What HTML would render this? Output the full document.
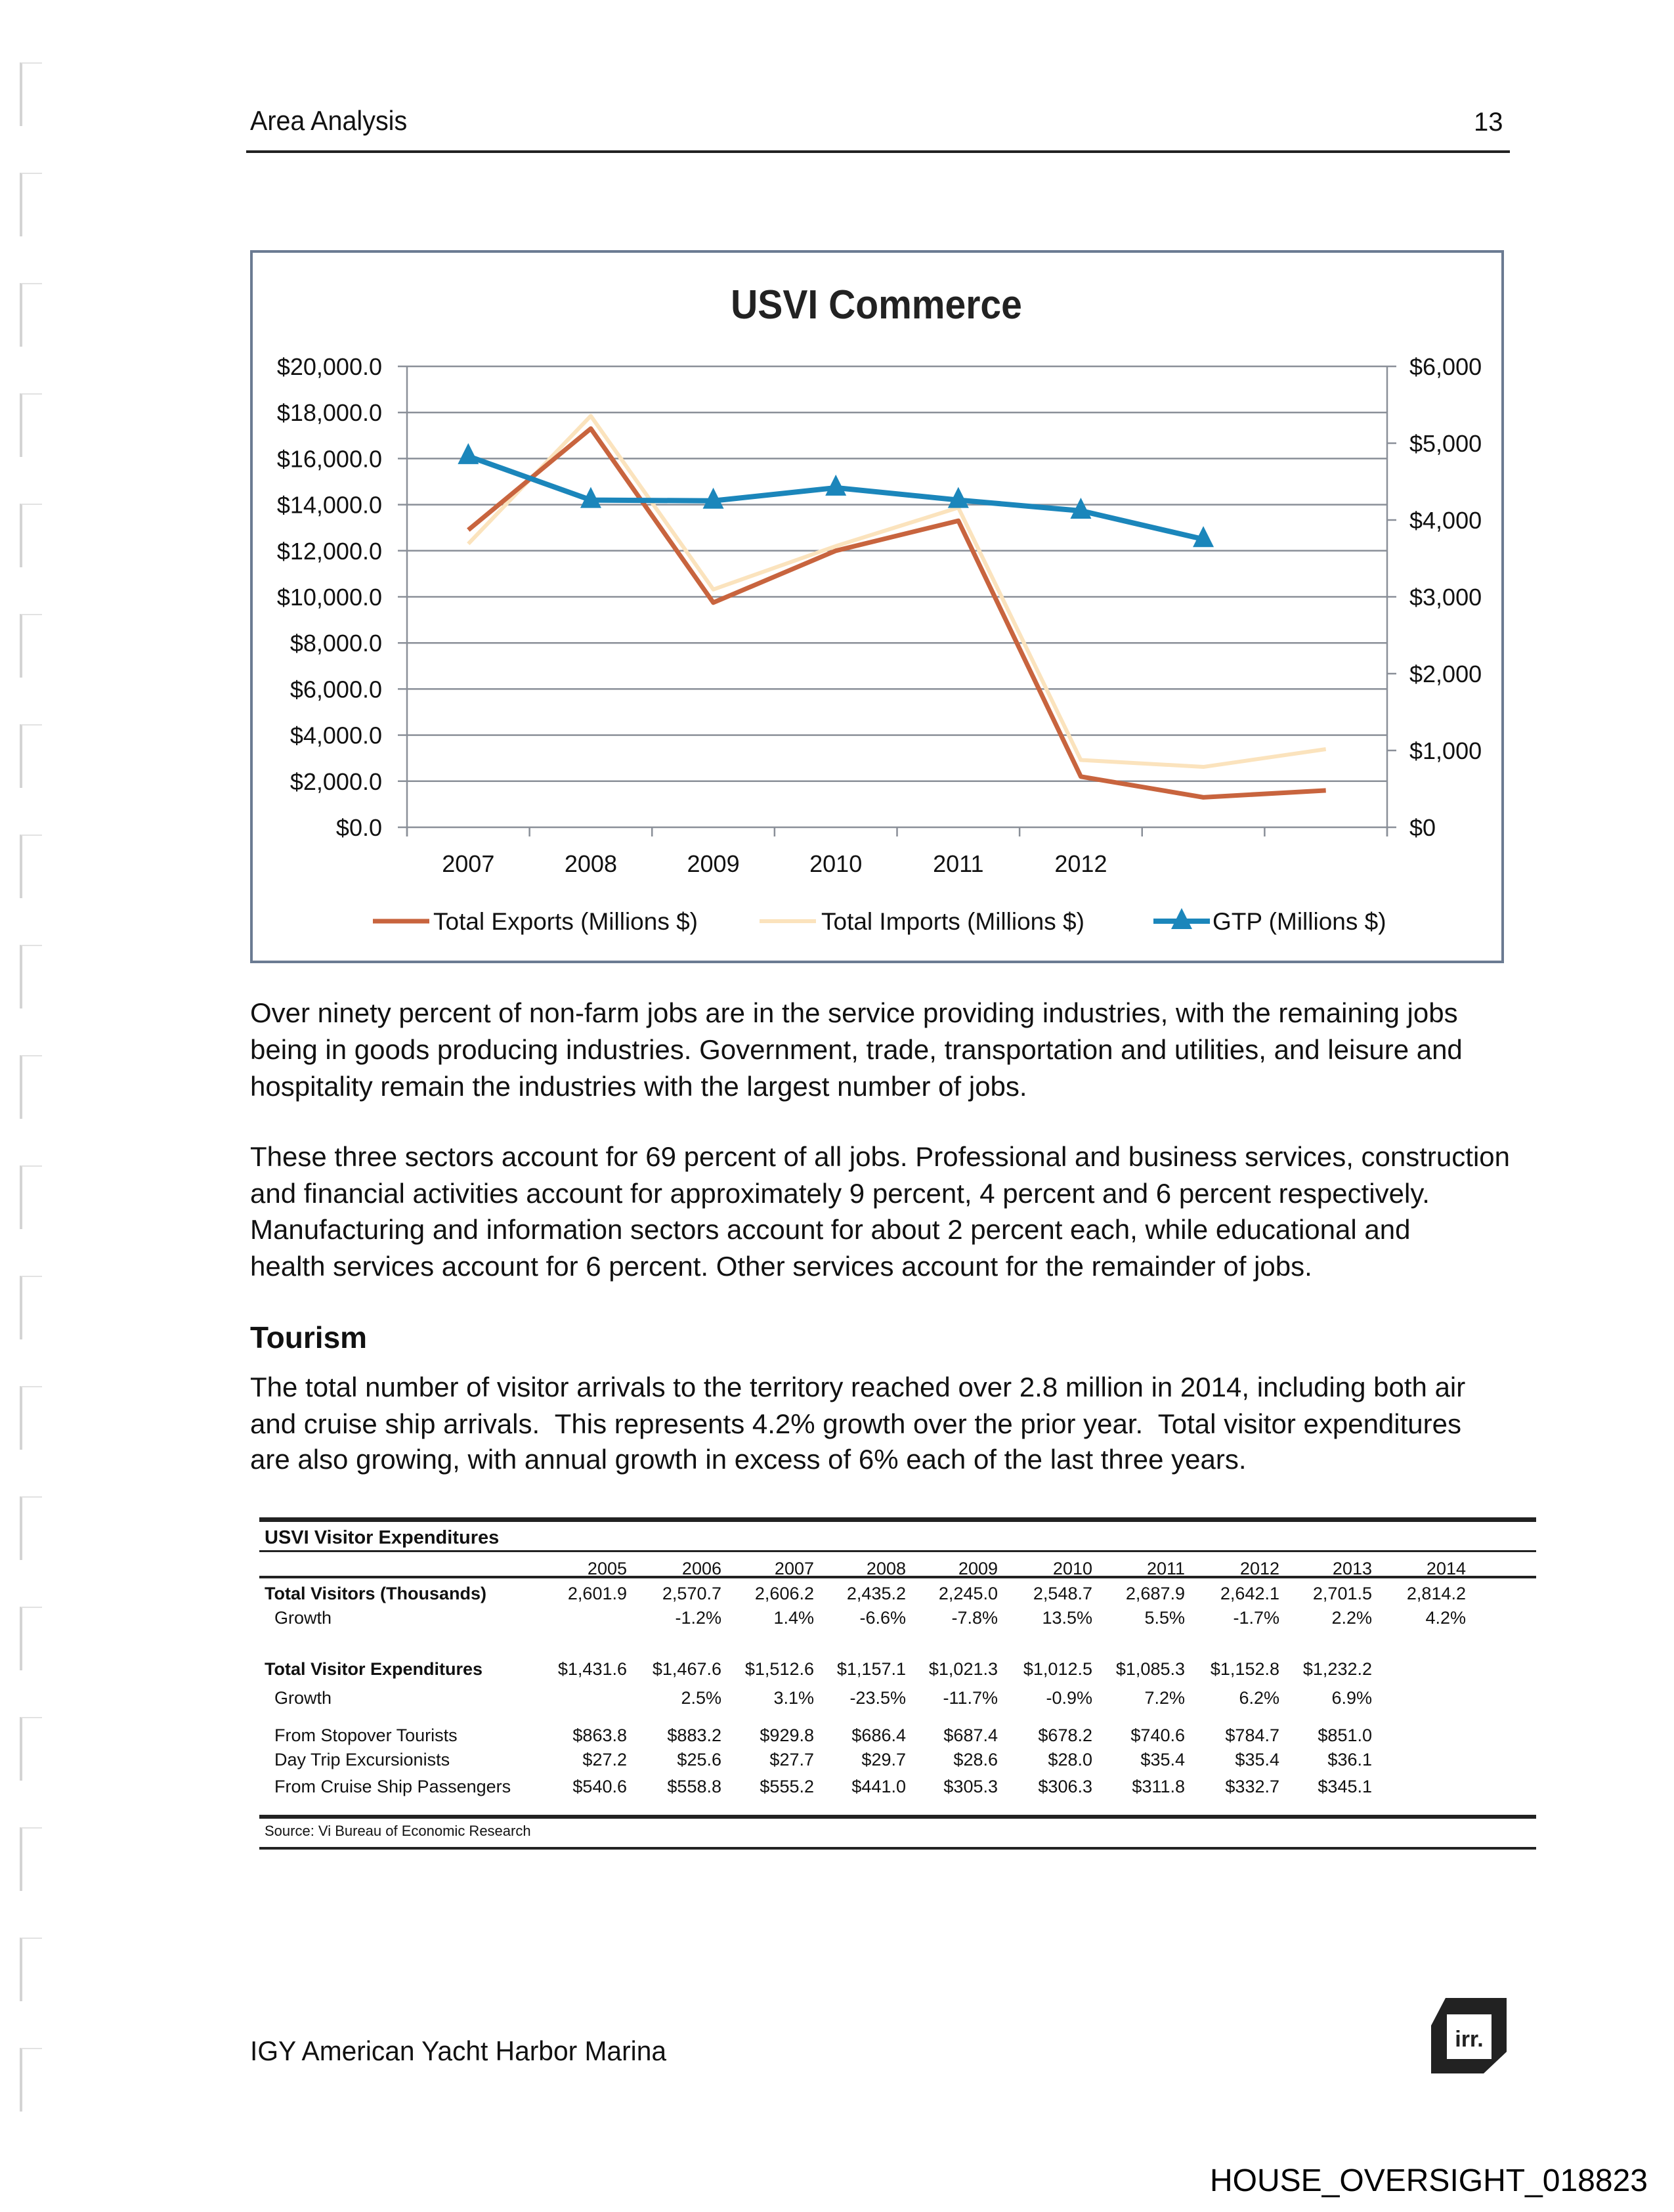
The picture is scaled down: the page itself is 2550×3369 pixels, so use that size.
<!DOCTYPE html>
<html><head><meta charset="utf-8">
<style>
html,body{margin:0;padding:0;background:#fff;}
body{width:2550px;height:3369px;position:relative;overflow:hidden;font-family:"Liberation Sans",sans-serif;color:#111;}
.abs{position:absolute;white-space:nowrap;}
.p{position:absolute;left:381px;font-size:42px;white-space:nowrap;transform:scaleX(1.0);transform-origin:left center;line-height:1;}
.t{position:absolute;font-size:27px;white-space:nowrap;line-height:1;}
.r{text-align:right;width:140px;}
.rule{position:absolute;left:395px;width:1945px;background:#222;}
</style></head>
<body>
<div class="abs" style="left:381px;top:160px;font-size:42px;transform:scaleX(0.94);transform-origin:left;">Area Analysis</div>
<div class="abs" style="left:2245px;top:164px;font-size:40px;">13</div>
<div class="abs" style="left:375px;top:229px;width:1925px;height:4px;background:#222;"></div>

<svg id="chart" width="2550" height="1500" style="position:absolute;left:0;top:0;">
<rect x="383" y="383" width="1906" height="1082" fill="#fff" stroke="#6b7b92" stroke-width="4"/>
<text x="1335" y="485" text-anchor="middle" font-family="Liberation Sans" font-weight="bold" font-size="62" fill="#222" transform="translate(1335 0) scale(0.92 1) translate(-1335 0)">USVI Commerce</text>
<g id="grid"></g><g id="axes"></g><g id="series"></g><g id="legend"></g>
</svg>

<div class="p" style="top:1522px;">Over ninety percent of non-farm jobs are in the service providing industries, with the remaining jobs</div>
<div class="p" style="top:1578px;">being in goods producing industries. Government, trade, transportation and utilities, and leisure and</div>
<div class="p" style="top:1634px;">hospitality remain the industries with the largest number of jobs.</div>

<div class="p" style="top:1741px;">These three sectors account for 69 percent of all jobs. Professional and business services, construction</div>
<div class="p" style="top:1797px;">and financial activities account for approximately 9 percent, 4 percent and 6 percent respectively.</div>
<div class="p" style="top:1852px;">Manufacturing and information sectors account for about 2 percent each, while educational and</div>
<div class="p" style="top:1908px;">health services account for 6 percent. Other services account for the remainder of jobs.</div>

<div class="p" style="top:2014px;font-size:46px;font-weight:bold;">Tourism</div>
<div class="p" style="top:2092px;">The total number of visitor arrivals to the territory reached over 2.8 million in 2014, including both air</div>
<div class="p" style="top:2148px;">and cruise ship arrivals.&nbsp; This represents 4.2% growth over the prior year.&nbsp; Total visitor expenditures</div>
<div class="p" style="top:2202px;">are also growing, with annual growth in excess of 6% each of the last three years.</div>

<div>
<div class="rule" style="top:2311px;height:7px;"></div>
<div class="t" style="left:403px;top:2328px;font-weight:bold;font-size:29px;">USVI Visitor Expenditures</div>
<div class="rule" style="top:2361px;height:3px;"></div>
<div class="rule" style="top:2400px;height:4px;"></div>
<div id="tbl"></div>
<div class="rule" style="top:2764px;height:6px;"></div>
<div class="t" style="left:403px;top:2778px;font-size:22px;">Source: Vi Bureau of Economic Research</div>
<div class="rule" style="top:2813px;height:4px;"></div>
</div>

<div class="abs" style="left:381px;top:3100px;font-size:42px;transform:scaleX(0.97);transform-origin:left;">IGY American Yacht Harbor Marina</div>
<svg width="120" height="120" style="position:absolute;left:2180px;top:3043px;">
<polygon points="22,0 115,0 115,82 80,115 0,115 0,42" fill="#222"/>
<rect x="24" y="25" width="68" height="68" fill="#fff"/>
<text x="58" y="74" text-anchor="middle" font-family="Liberation Sans" font-weight="bold" font-size="34" fill="#222">irr.</text>
</svg>
<div class="abs" style="left:1843px;top:3294px;font-size:48px;color:#000;">HOUSE_OVERSIGHT_018823</div>
<div id="binder"></div>

<script>
// Chart data
const categories = ["2007","2008","2009","2010","2011","2012","",""];
const exportsVals = [12900, 17300, 9750, 12000, 13300, 2200, 1300, 1600];
const importsVals = [12300, 17850, 10320, 12200, 13870, 2920, 2620, 3390];
const gtpVals = [4830, 4260, 4250, 4420, 4260, 4120, 3750];
const leftTicks = [0,2000,4000,6000,8000,10000,12000,14000,16000,18000,20000];
const leftTickLabels = ["$0.0","$2,000.0","$4,000.0","$6,000.0","$8,000.0","$10,000.0","$12,000.0","$14,000.0","$16,000.0","$18,000.0","$20,000.0"];
const rightTicks = [0,1000,2000,3000,4000,5000,6000];
const rightTickLabels = ["$0","$1,000","$2,000","$3,000","$4,000","$5,000","$6,000"];
const seriesNames = ["Total Exports (Millions $)","Total Imports (Millions $)","GTP (Millions $)"];

const NS="http://www.w3.org/2000/svg";
const PL=620, PR=2113, PT=558, PB=1260;
const LMAX=20000, RMAX=6000;
function xs(i){return PL+(i+0.5)*(PR-PL)/categories.length;}
function xb(i){return PL+i*(PR-PL)/categories.length;}
function yL(v){return PB-v/LMAX*(PB-PT);}
function yR(v){return PB-v/RMAX*(PB-PT);}
function mk(tag,attrs,parent){const e=document.createElementNS(NS,tag);for(const k in attrs)e.setAttribute(k,attrs[k]);parent.appendChild(e);return e;}
const grid=document.getElementById('grid'),axes=document.getElementById('axes'),ser=document.getElementById('series'),leg=document.getElementById('legend');

leftTicks.forEach((v,i)=>{
  const l=mk('line',{x1:PL-14,x2:PR,y1:yL(v),y2:yL(v),stroke:'#8a8f98','stroke-width':2.5},grid);
  
  
  const t=mk('text',{x:PL-38,y:yL(v)+13,'text-anchor':'end','font-family':'Liberation Sans','font-size':36,fill:'#111'},axes);
  t.textContent=leftTickLabels[i];
  
  
});
rightTicks.forEach((v,i)=>{
  const l=mk('line',{x1:PR,x2:PR+14,y1:yR(v),y2:yR(v),stroke:'#8a8f98','stroke-width':2.5},axes);
  
  
  const t=mk('text',{x:PR+34,y:yR(v)+13,'font-family':'Liberation Sans','font-size':36,fill:'#111'},axes);
  t.textContent=rightTickLabels[i];
  
  
});
const ya=mk('line',{x1:PL,x2:PL,y1:PT,y2:PB+14,stroke:'#8a8f98','stroke-width':2.5},axes);


const yr=mk('line',{x1:PR,x2:PR,y1:PT,y2:PB+14,stroke:'#8a8f98','stroke-width':2.5},axes);


for(let i=0;i<=categories.length;i++){
  const l=mk('line',{x1:xb(i),x2:xb(i),y1:PB,y2:PB+14,stroke:'#8a8f98','stroke-width':2.5},axes);
  
  
}
categories.forEach((c,i)=>{
  if(!c)return;
  const t=mk('text',{x:xs(i),y:1328,'text-anchor':'middle','font-family':'Liberation Sans','font-size':36,fill:'#111'},axes);
  t.textContent=c;
  
  
});
function pts(vals,f){return vals.map((v,i)=>xs(i)+','+f(v)).join(' ');}
const imp=mk('polyline',{points:pts(importsVals,yL),fill:'none',stroke:'#fbe3bd','stroke-width':6,'stroke-linejoin':'round'},ser);


const exp=mk('polyline',{points:pts(exportsVals,yL),fill:'none',stroke:'#c8643e','stroke-width':7,'stroke-linejoin':'round'},ser);


const gtp=mk('polyline',{points:pts(gtpVals,yR),fill:'none',stroke:'#1b86bb','stroke-width':8,'stroke-linejoin':'round'},ser);


gtpVals.forEach((v,i)=>{
  const x=xs(i),y=yR(v);
  const m=mk('polygon',{points:`${x},${y-20} ${x-16},${y+12} ${x+16},${y+12}`,fill:'#1b86bb'},ser);
  
  
});
// legend
const legItems=[{x:568,c:'#c8643e',w:7,tx:660},{x:1157,c:'#fbe3bd',w:6,tx:1251},{x:1757,c:'#1b86bb',w:8,tx:1847,tri:true}];
legItems.forEach((it,i)=>{
  const l=mk('line',{x1:it.x,x2:it.x+86,y1:1403,y2:1403,stroke:it.c,'stroke-width':it.w},leg);
  
  
  if(it.tri){const m=mk('polygon',{points:`${it.x+43},${1383} ${it.x+27},${1415} ${it.x+59},${1415}`,fill:it.c},leg);
    
    }
  const t=mk('text',{x:it.tx,y:1416,'font-family':'Liberation Sans','font-size':37,fill:'#111'},leg);
  t.textContent=seriesNames[i];
  
  
});

// Table
const years=["2005","2006","2007","2008","2009","2010","2011","2012","2013","2014"];
const colRight=[955,1099,1240,1380,1520,1664,1805,1949,2090,2233];
const rows=[
 {label:"",top:2376,vals:years,name:'year-header'},
 {label:"Total Visitors (Thousands)",bold:true,top:2414,vals:["2,601.9","2,570.7","2,606.2","2,435.2","2,245.0","2,548.7","2,687.9","2,642.1","2,701.5","2,814.2"],name:'total-visitors-row'},
 {label:"Growth",ind:true,top:2451,vals:["","-1.2%","1.4%","-6.6%","-7.8%","13.5%","5.5%","-1.7%","2.2%","4.2%"],name:'visitors-growth-row'},
 {label:"Total Visitor Expenditures",bold:true,top:2529,vals:["$1,431.6","$1,467.6","$1,512.6","$1,157.1","$1,021.3","$1,012.5","$1,085.3","$1,152.8","$1,232.2",""],name:'expenditures-row'},
 {label:"Growth",ind:true,top:2573,vals:["","2.5%","3.1%","-23.5%","-11.7%","-0.9%","7.2%","6.2%","6.9%",""],name:'expenditures-growth-row'},
 {label:"From Stopover Tourists",ind:true,top:2630,vals:["$863.8","$883.2","$929.8","$686.4","$687.4","$678.2","$740.6","$784.7","$851.0",""],name:'stopover-row'},
 {label:"Day Trip Excursionists",ind:true,top:2667,vals:["$27.2","$25.6","$27.7","$29.7","$28.6","$28.0","$35.4","$35.4","$36.1",""],name:'daytrip-row'},
 {label:"From Cruise Ship Passengers",ind:true,top:2708,vals:["$540.6","$558.8","$555.2","$441.0","$305.3","$306.3","$311.8","$332.7","$345.1",""],name:'cruise-row'}
];
const tbl=document.getElementById('tbl');
rows.forEach(r=>{
  if(r.label){const d=document.createElement('div');d.className='t';d.textContent=r.label;
    d.style.left=(r.ind?418:403)+'px';d.style.top=r.top+'px';if(r.bold)d.style.fontWeight='bold';
    
    
    tbl.appendChild(d);}
  r.vals.forEach((v,i)=>{if(!v)return;const d=document.createElement('div');d.className='t r';d.textContent=v;
    d.style.left=(colRight[i]-140)+'px';d.style.top=r.top+'px';
    
    
    tbl.appendChild(d);});
});
// binder marks
const b=document.getElementById('binder');
for(let i=0;i<19;i++){const d=document.createElement('div');
  d.style.cssText=`position:absolute;left:30px;top:${95+i*168}px;width:30px;height:95px;border-left:4px solid #d4d4d4;border-top:2px solid #e2e2e2;`;
  
  
  b.appendChild(d);}
</script>
</body></html>
